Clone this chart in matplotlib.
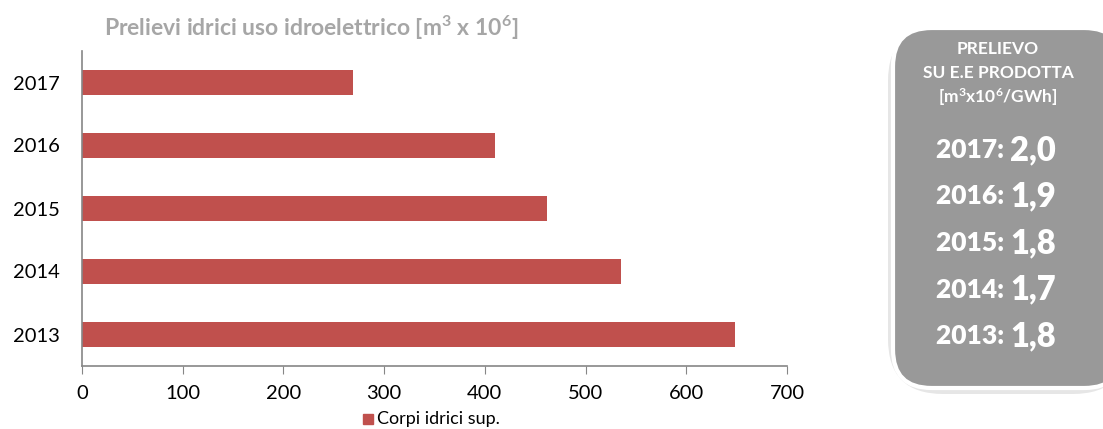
import matplotlib.pyplot as plt
from matplotlib.patches import FancyBboxPatch, Rectangle

years = ["2013", "2014", "2015", "2016", "2017"]
prelievi = [648, 535, 462, 410, 269]
ratio_years = ["2017", "2016", "2015", "2014", "2013"]
ratio_vals = [2.0, 1.9, 1.8, 1.7, 1.8]

plt.rcParams["font.family"] = ["Lato", "DejaVu Sans"]
plt.rcParams["mathtext.fontset"] = "custom"
plt.rcParams["mathtext.rm"] = "Lato:bold"
plt.rcParams["mathtext.it"] = "Lato:bold"
plt.rcParams["mathtext.bf"] = "Lato:bold"

W, H = 1103, 429
fig = plt.figure(figsize=(W / 100, H / 100), dpi=100)
ax = fig.add_axes([82 / W, 1 - 366 / H, (787 - 82) / W, (366 - 51) / H])

ax.barh(years, prelievi, height=0.41, color="#C0504D", label="Corpi idrici sup.")
ax.set_xlim(0, 700)
ax.set_ylim(-0.5, 4.5)
ax.set_xticks(range(0, 701, 100))
for s in ["top", "right"]:
    ax.spines[s].set_visible(False)
for s in ["left", "bottom"]:
    ax.spines[s].set_color("#868686")
    ax.spines[s].set_linewidth(1.2)
ax.tick_params(axis="x", direction="out", length=6, color="#868686", labelsize=14.5, pad=8)
ax.tick_params(axis="y", length=0, labelsize=14.5, pad=16)

fig.text(311 / W, 1 - 28 / H, r"Prelievi idrici uso idroelettrico [m$^3$ x 10$^6$]",
         ha="center", va="center", fontsize=16.5, fontweight="bold", color="#A6A6A6")

# legend
fig.patches.append(Rectangle((363 / W, 1 - 424 / H), 10 / W, 10 / H,
                             transform=fig.transFigure, color="#C0504D"))
fig.text(377 / W, 1 - 419 / H, "Corpi idrici sup.", ha="left", va="center", fontsize=13)

# right-hand box
shadow = FancyBboxPatch((888 / W, 1 - 394 / H), 240 / W, 368 / H,
                        boxstyle="round,pad=0,rounding_size=0.05",
                        transform=fig.transFigure, facecolor="#E6E6E6",
                        edgecolor="none", mutation_aspect=W / H)
box = FancyBboxPatch((893 / W, 1 - 388 / H), 230 / W, 360 / H,
                     boxstyle="round,pad=0,rounding_size=0.035",
                     transform=fig.transFigure, facecolor="#999999",
                     edgecolor="white", linewidth=3, mutation_aspect=W / H)
fig.patches.extend([shadow, box])

cx = 998 / W
for txt, yp in [("PRELIEVO", 49), ("SU E.E PRODOTTA", 73), (r"[m$^3$x10$^6$/GWh]", 97)]:
    fig.text(cx, 1 - yp / H, txt, ha="center", va="center", color="white",
             fontsize=12.5, fontweight="bold")

y0 = 150
for i, (yr, v) in enumerate(zip(ratio_years, ratio_vals)):
    yy = 1 - (y0 + i * 46.5) / H
    fig.text(1010 / W, yy, f"{yr}: ", ha="right", va="center", color="white",
             fontsize=19, fontweight="heavy")
    fig.text(1010 / W, yy, f"{v:.1f}".replace(".", ","), ha="left", va="center",
             color="white", fontsize=23.5, fontweight="heavy")

fig.savefig("out.png", dpi=100)
